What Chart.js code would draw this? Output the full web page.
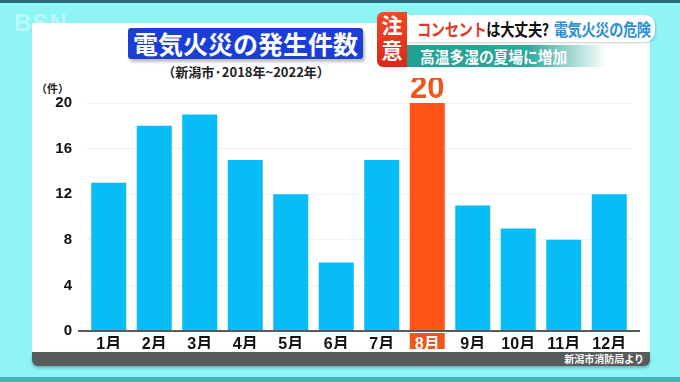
<!DOCTYPE html>
<html><head><meta charset="utf-8">
<script src="https://cdn.jsdelivr.net/npm/chart.js@4.4.1/dist/chart.umd.min.js"></script>
<style>
html,body{margin:0;padding:0;}
body{width:680px;height:382px;position:relative;overflow:hidden;background:#8ef4f4;font-family:"Liberation Sans","Noto Sans CJK JP",sans-serif;}
.topstrip{position:absolute;left:0;top:0;width:680px;height:3px;background:#2c6a76;}
.botstrip{position:absolute;left:0;top:377px;width:680px;height:5px;background:#3fb5b5;}
.logo{position:absolute;left:14px;top:9px;font:bold 24px "Liberation Sans",sans-serif;color:#fff;opacity:.4;letter-spacing:1px;}
.panel{position:absolute;left:32px;top:23px;width:618px;height:329px;background:#fff;}
.footer{position:absolute;left:32px;top:352px;width:618px;height:14px;background:#575b5b;border-radius:0 0 6px 6px;box-shadow:0 2px 3px rgba(0,0,0,.25);}
.footer span{position:absolute;right:6px;top:0px;font:bold 10px "Noto Sans CJK JP",sans-serif;color:#fff;line-height:14px;}
.title{position:absolute;left:128px;top:28px;width:235px;height:31px;background:#1b3fd6;border-radius:3px;color:#fff;font:bold 25px "Noto Sans CJK JP",sans-serif;line-height:31px;text-align:center;box-shadow:2px 3px 3px rgba(0,0,0,.25);}
.sub{position:absolute;left:160px;top:63px;width:172px;text-align:center;font:bold 13px "Noto Sans CJK JP",sans-serif;color:#222;line-height:18px;}
.unit{position:absolute;left:36px;top:80px;font:bold 11px "Noto Sans CJK JP",sans-serif;color:#222;}
.chuui{position:absolute;left:377px;top:12px;width:30px;height:55px;background:linear-gradient(#f04a24,#d8281a);border-radius:6px 0 0 6px;color:#fff;font:bold 21px "Noto Sans CJK JP",sans-serif;line-height:25px;text-align:center;}
.hd1{position:absolute;left:407px;top:15px;width:248px;height:27px;background:#fff;border-radius:0 10px 10px 0;box-shadow:1px 1px 2px rgba(0,0,0,.2);overflow:hidden;}
.hd1 .in{position:absolute;left:10px;top:0;font:bold 17px "Noto Sans CJK JP",sans-serif;line-height:27px;white-space:nowrap;transform:scaleX(0.84);transform-origin:0 50%;letter-spacing:-0.5px;}
.hd1 .r{color:#e23a22;}
.hd1 .k{color:#111;}
.hd1 .b{color:#2d8fd6;margin-left:6px;}
.hd2{position:absolute;left:407px;top:45px;width:200px;height:22px;background:linear-gradient(90deg,#22a090 0%,#2aa898 60%,rgba(60,190,175,0) 100%);}
.hd2 span{position:absolute;left:13px;top:0;color:#fff;font:bold 16px "Noto Sans CJK JP",sans-serif;line-height:22px;white-space:nowrap;transform:scaleX(0.92);transform-origin:0 50%;}
#wrap{position:absolute;left:32px;top:78px;width:618px;height:276px;}
</style></head>
<body>
<div class="topstrip"></div>
<div class="logo">BSN</div>
<div class="panel"></div>
<div class="footer"><span>新潟市消防局より</span></div>
<div class="title">電気火災の発生件数</div>
<div class="sub">（新潟市·2018年~2022年）</div>
<div class="unit">（件）</div>
<div class="chuui">注<br>意</div>
<div class="hd1"><div class="in"><span class="r">コンセント</span><span class="k">は大丈夫?</span><span class="b">電気火災の危険</span></div></div>
<div class="hd2"><span>高温多湿の夏場に増加</span></div>
<div class="botstrip"></div>
<div id="wrap"><canvas id="c"></canvas></div>
<script>
const months = ["1月","2月","3月","4月","5月","6月","7月","8月","9月","10月","11月","12月"];
const fires = [13,18,19,15,12,6,15,20,11,9,8,12];
const yTicks = [0,4,8,12,16,20];
const highlightIndex = 7;

const blue = "#08bdf6", orange = "#ff5516";

const extras = {
  id: "extras",
  afterDatasetsDraw(chart) {
    const ctx = chart.ctx;
    const y = chart.scales.y;
    ctx.save();
    ctx.strokeStyle = "#5a5a5a";
    ctx.lineWidth = 2;
    const y0 = y.getPixelForValue(0);
    ctx.beginPath();
    ctx.moveTo(chart.chartArea.left - 8, y0);
    ctx.lineTo(chart.chartArea.right + 8, y0);
    ctx.stroke();
    const bar = chart.getDatasetMeta(0).data[highlightIndex];
    ctx.fillStyle = "#f0561c";
    ctx.font = "bold 31px 'Liberation Sans', sans-serif";
    ctx.textAlign = "center";
    ctx.textBaseline = "bottom";
    ctx.fillText(String(fires[highlightIndex]), bar.x, bar.y + 2);
    ctx.restore();
  }
};

new Chart(document.getElementById("c"), {
  type: "bar",
  data: {
    labels: months,
    datasets: [{
      data: fires,
      backgroundColor: fires.map((v, i) => i === highlightIndex ? orange : blue),
      borderWidth: 0,
      barPercentage: 0.77,
      categoryPercentage: 1.0
    }]
  },
  options: {
    responsive: true,
    maintainAspectRatio: false,
    animation: false,
    layout: { padding: { top: 25, right: 18, left: 0, bottom: 0 } },
    plugins: { legend: { display: false }, tooltip: { enabled: false } },
    scales: {
      x: {
        grid: { display: false, drawTicks: false },
        border: { display: false },
        afterFit(s) { s.height = 18; },
        ticks: {
          padding: 4,
          color: (c) => c.index === highlightIndex ? "#fff" : "#111",
          font: { size: 16, weight: "bold", family: "'Liberation Sans','Noto Sans CJK JP',sans-serif" },
          showLabelBackdrop: true,
          backdropColor: (c) => c.index === highlightIndex ? "#f0561c" : "rgba(0,0,0,0)",
          backdropPadding: { top: 2, bottom: 1, left: 5, right: 5 }
        }
      },
      y: {
        min: 0, max: 20,
        afterFit(s) { s.width = 54; },
        afterBuildTicks(s) { s.ticks = yTicks.map(v => ({ value: v })); },
        grid: { color: "#f1f1f1", lineWidth: 1, drawTicks: false },
        border: { display: false },
        ticks: {
          padding: 14,
          color: "#111",
          font: { size: 15, weight: "bold", family: "'Liberation Sans',sans-serif" }
        }
      }
    }
  },
  plugins: [extras]
});
</script>
</body></html>
